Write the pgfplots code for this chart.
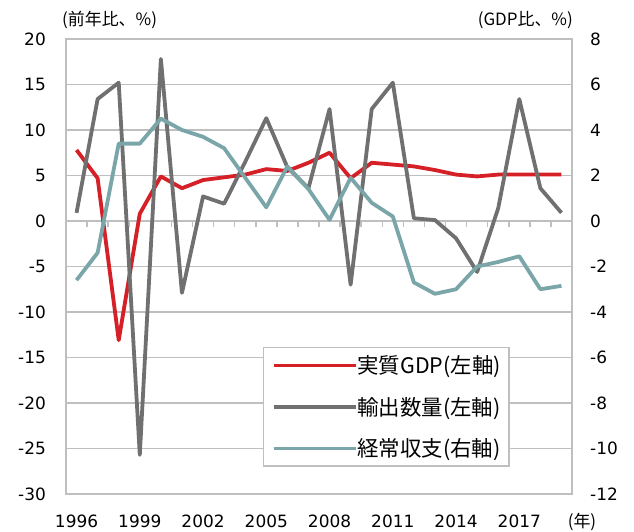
\documentclass[border=0pt]{standalone}
\usepackage{fontspec}
\setmainfont{DejaVu Sans}
\newfontfamily\jp{Noto Sans CJK JP}
\usepackage{pgfplots}
\usepackage{pgfplotstable}
\pgfplotsset{compat=1.18}
\definecolor{gdpred}{RGB}{212,32,38}
\definecolor{expgray}{RGB}{112,112,112}
\definecolor{cateal}{RGB}{122,166,170}
\definecolor{gridgray}{RGB}{191,191,191}

% x: 0 = 1996 ... 23 = 2019
\pgfplotstableread{
x  gdp   exp    ca
0  7.8   0.9   -2.6
1  4.7   13.4  -1.4
2  -13.1 15.2   3.4
3  0.8   -25.7  3.4
4  4.9   17.8   4.5
5  3.6   -7.9   4.0
6  4.5   2.7    3.7
7  4.8   1.9    3.2
8  5.1   6.5    1.9
9  5.7   11.3   0.6
10 5.5   5.9    2.4
11 6.4   3.6    1.4
12 7.5   12.3   0.05
13 4.7   -7.0   1.9
14 6.4   12.3   0.8
15 6.2   15.2   0.2
16 6.0   0.3   -2.7
17 5.6   0.1   -3.2
18 5.1   -1.9  -3.0
19 4.9   -5.6  -2.0
20 5.1   1.4   -1.8
21 5.1   13.4  -1.55
22 5.1   3.6   -3.0
23 5.1   0.9   -2.85
}\datatable

\begin{document}
\begin{tikzpicture}
\begin{axis}[
  at={(0,0)}, anchor=south west,
  scale only axis, width=506bp, height=455bp,
  xmin=-0.5, xmax=23.5, ymin=-30, ymax=20,
  xtick={0,3,6,9,12,15,18,21},
  xticklabels={1996,1999,2002,2005,2008,2011,2014,2017},
  ytick={-30,-25,-20,-15,-10,-5,0,5,10,15,20},
  yticklabels={-30,-25,-20,-15,-10,-5,0,5,10,15,20},
  major tick length=0pt,
  tick style={draw=none},
  ymajorgrids,
  grid style={gridgray, line width=1.5bp},
  axis line style={gridgray, line width=1.5bp},
  ticklabel style={font=\fontsize{17}{20}\selectfont, inner sep=0pt},
  yticklabel style={anchor=east, xshift=-20bp},
  xticklabel style={anchor=north, yshift=-21bp},
]
\pgfplotsinvokeforeach{0,...,22}{
  \draw[gridgray, line width=1.5bp] (axis cs:#1.5,0) -- ([yshift=-6bp]axis cs:#1.5,0);
}
\addplot[gdpred, line width=3.8bp, line join=round] table[x=x, y=gdp] {\datatable};
\addplot[expgray, line width=3.8bp, line join=round] table[x=x, y=exp] {\datatable};
\end{axis}

\begin{axis}[
  at={(0,0)}, anchor=south west,
  scale only axis, width=506bp, height=455bp,
  xmin=-0.5, xmax=23.5, ymin=-12, ymax=8,
  hide x axis,
  axis y line*=right,
  ytick={-12,-10,-8,-6,-4,-2,0,2,4,6,8},
  yticklabels={-12,-10,-8,-6,-4,-2,0,2,4,6,8},
  major tick length=0pt,
  tick style={draw=none},
  axis line style={gridgray, line width=1.5bp},
  yticklabel style={font=\fontsize{17}{20}\selectfont, inner sep=0pt, anchor=west, xshift=18bp},
  legend image code/.code={
    \path (-23bp,0bp) -- (59bp,0bp);
    \draw[#1, line width=3.8bp] (0bp,0bp) -- (53bp,0bp);
  },
  legend cell align=left,
  legend style={
    at={(0.3893,0.3231)}, anchor=north west,
    draw=gridgray, line width=1.5bp, fill=white,
    font=\jp\fontsize{21.5}{24}\selectfont,
    inner xsep=8bp, inner ysep=8bp,
    row sep=22bp,
    nodes={inner sep=0pt},
  },
]
\addlegendimage{gdpred, line width=3.8bp}
\addlegendentry{実質GDP(左軸)}
\addlegendimage{expgray, line width=3.8bp}
\addlegendentry{輸出数量(左軸)}
\addplot[cateal, line width=3.8bp, line join=round] table[x=x, y=ca] {\datatable};
\addlegendentry{経常収支(右軸)}
\end{axis}

\node[anchor=base west, inner sep=0pt, font=\jp\fontsize{17}{20}\selectfont] at (-4bp,468bp) {(前年比、\%)};
\node[anchor=base east, inner sep=0pt, font=\jp\fontsize{17}{20}\selectfont] at (507bp,468bp) {(GDP比、\%)};
\node[anchor=base, inner sep=0pt, font=\jp\fontsize{17}{20}\selectfont] at (516bp,-33.4bp) {(年)};

\pgfresetboundingbox
\path (-66bp,-38bp) rectangle (568bp,494bp);
\end{tikzpicture}
\end{document}
